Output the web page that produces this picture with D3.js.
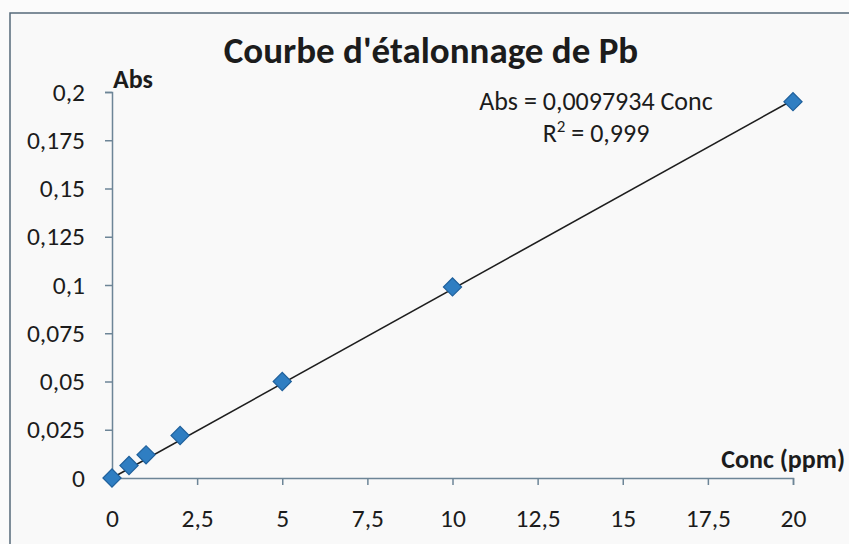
<!DOCTYPE html>
<html>
<head>
<meta charset="utf-8">
<script src="https://cdn.jsdelivr.net/npm/d3@7"></script>
<style>
  html, body { margin: 0; padding: 0; background: #fbfbfb; }
  svg { display: block; }
  text { font-family: Carlito, Calibri, "Open Sans", sans-serif; fill: #1c1c1c; }
</style>
</head>
<body>
<svg id="chart" width="849" height="544"></svg>
<script>
// Calibration standards: concentration (ppm) and measured absorbance
const concentrations = [0, 0.5, 1, 2, 5, 10, 20];
const absorbances = [0, 0.0065, 0.012, 0.022, 0.050, 0.099, 0.195];

// Linear trendline forced through the origin
const slope = 0.0097934;
const equationLabel = "Abs = 0,0097934 Conc";
const r2Label = "0,999";

// Axis ticks and their French-formatted labels
const xTicks = [0, 2.5, 5, 7.5, 10, 12.5, 15, 17.5, 20];
const xTickLabels = ["0", "2,5", "5", "7,5", "10", "12,5", "15", "17,5", "20"];
const yTicks = [0, 0.025, 0.05, 0.075, 0.1, 0.125, 0.15, 0.175, 0.2];
const yTickLabels = ["0", "0,025", "0,05", "0,075", "0,1", "0,125", "0,15", "0,175", "0,2"];

const titleText = "Courbe d'étalonnage de Pb";
const xTitle = "Conc (ppm)";
const yTitle = "Abs";

const fontStack = 'Carlito, Calibri, "Open Sans", sans-serif';
const labelSize = 25.5;
const svg = d3.select("#chart");

// Chart area frame
svg.append("rect")
  .attr("x", 10).attr("y", 13)
  .attr("width", 860).attr("height", 560)
  .attr("fill", "#f9f9f9")
  .attr("stroke", "#55697a").attr("stroke-width", 1.5);

const x = d3.scaleLinear().domain([0, 20]).range([112, 793]);
const y = d3.scaleLinear().domain([0, 0.2]).range([478, 92]);

const axisColor = "#6d8597";

// Y axis
const yAxis = svg.append("g")
  .attr("transform", `translate(${x(0)},0)`)
  .call(d3.axisLeft(y).tickValues(yTicks).tickSize(7).tickPadding(20)
    .tickFormat((d, i) => yTickLabels[i]));
yAxis.select(".domain").attr("stroke", axisColor).attr("stroke-width", 1.5);
yAxis.selectAll(".tick line").attr("stroke", axisColor).attr("stroke-width", 1.5);
yAxis.selectAll(".tick text")
  .attr("font-size", labelSize).attr("fill", "#1c1c1c")
  .style("font-family", fontStack);

// X axis
const xAxis = svg.append("g")
  .attr("transform", `translate(0,${y(0)})`)
  .call(d3.axisBottom(x).tickValues(xTicks).tickSize(7).tickPadding(24)
    .tickFormat((d, i) => xTickLabels[i]));
xAxis.select(".domain").attr("stroke", axisColor).attr("stroke-width", 1.5);
xAxis.selectAll(".tick line").attr("stroke", axisColor).attr("stroke-width", 1.5);
xAxis.selectAll(".tick text")
  .attr("font-size", labelSize).attr("fill", "#1c1c1c")
  .style("font-family", fontStack);

// Trendline through the origin
svg.append("line")
  .attr("x1", x(0)).attr("y1", y(0))
  .attr("x2", x(20)).attr("y2", y(slope * 20))
  .attr("stroke", "#1e1e1e").attr("stroke-width", 1.6);

// Data markers (diamonds)
const diamond = d3.symbol().type(d3.symbolSquare).size(165);
svg.append("g").selectAll("path")
  .data(concentrations.map((c, i) => [c, absorbances[i]]))
  .join("path")
  .attr("d", diamond)
  .attr("transform", d => `translate(${x(d[0])},${y(d[1])}) rotate(45)`)
  .attr("fill", "#2f7ec2")
  .attr("stroke", "#1f609c").attr("stroke-width", 1.2);

// Title
svg.append("text")
  .attr("x", 431).attr("y", 63)
  .attr("text-anchor", "middle")
  .attr("font-size", 37).attr("font-weight", "bold")
  .text(titleText);

// Axis titles
svg.append("text")
  .attr("x", 113).attr("y", 88)
  .attr("font-size", 26).attr("font-weight", "bold")
  .text(yTitle);

svg.append("text")
  .attr("x", 845).attr("y", 468)
  .attr("text-anchor", "end")
  .attr("font-size", 26).attr("font-weight", "bold")
  .text(xTitle);

// Trendline equation and R²
const eq = svg.append("g").attr("font-size", 26);
eq.append("text")
  .attr("x", 596).attr("y", 110)
  .attr("text-anchor", "middle")
  .text(equationLabel);
const r2 = eq.append("text")
  .attr("x", 596).attr("y", 142)
  .attr("text-anchor", "middle");
r2.append("tspan").text("R");
r2.append("tspan").attr("font-size", 17).attr("dy", -10).text("2");
r2.append("tspan").attr("dy", 10).text(" = " + r2Label);
</script>
</body>
</html>
